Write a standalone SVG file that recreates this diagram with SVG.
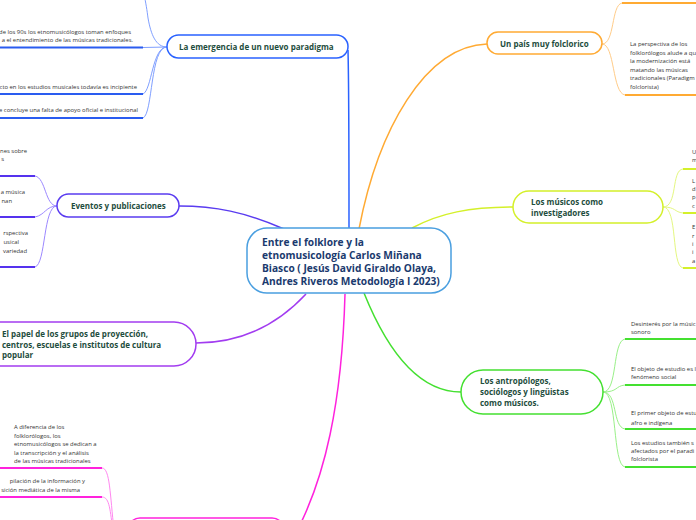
<svg xmlns="http://www.w3.org/2000/svg" width="696" height="520" viewBox="0 0 696 520">
<style>
.bg{fill:#ffffff}
.node{fill:#ffffff;stroke-width:1.5}
.root{fill:#ffffff;stroke:#4a9fe0;stroke-width:1.5}
.rt{font-family:"Open Sans","Noto Sans",sans-serif;font-weight:bold;font-size:10.2px;fill:#1a3a6e}
.tt{font-family:"Open Sans","Noto Sans",sans-serif;font-weight:bold;font-size:8px;fill:#1e4d3d}
.st{font-family:"Open Sans","Noto Sans",sans-serif;font-size:5.9px;fill:#333333}
.c{fill:none;stroke-width:1.5}
.b{fill:none;stroke-width:1}
.u{fill:none;stroke-width:2}
</style>
<rect class="bg" x="0" y="0" width="696" height="520"/>

<g id="connectors">
  <!-- root to main topics -->
  <path class="c" stroke="#2a62ff" d="M349,228 C349,150 349,90 348,50"/>
  <path class="c" stroke="#5a3cf0" d="M284,229 C245,212 215,206 179,206"/>
  <path class="c" stroke="#a23cf0" d="M306,294 C280,322 245,343 196,343"/>
  <path class="c" stroke="#ff22dd" d="M345,294 C342,400 326,480 292,540"/>
  <path class="c" stroke="#ffaa33" d="M359,229 C378,130 425,46 487,44"/>
  <path class="c" stroke="#d4f02a" d="M412,228 C440,213 470,207 513,207"/>
  <path class="c" stroke="#44e030" d="M364,293 C385,345 415,392 461,392"/>

  <!-- emergencia sub branches -->
  <path class="b" stroke="#7f9fff" d="M167,47 C156,47 151,35 148,18 C147,10 146,4 144,-6"/>
  <path class="b" stroke="#7f9fff" d="M167,47 L143,47.5"/>
  <path class="b" stroke="#7f9fff" d="M167,47 C152,47 152,90 143,94"/>
  <path class="b" stroke="#7f9fff" d="M167,47 C150,47 153,114 143,118"/>
  <path class="u" stroke="#2a5cf0" d="M0,47.5 H143"/>
  <path class="u" stroke="#2a5cf0" d="M0,94 H143"/>
  <path class="u" stroke="#2a5cf0" d="M0,118 H143"/>

  <!-- eventos sub branches -->
  <path class="b" stroke="#9c88ff" d="M57,206 C45,206 46,178 35,176"/>
  <path class="b" stroke="#9c88ff" d="M57,206 C46,206 45,215 35,217"/>
  <path class="b" stroke="#9c88ff" d="M57,206 C43,206 46,264 35,267"/>
  <path class="u" stroke="#5533ee" d="M0,176 H35"/>
  <path class="u" stroke="#5533ee" d="M0,217 H35"/>
  <path class="u" stroke="#5533ee" d="M0,267 H35"/>

  <!-- pink sub branches -->
  <path class="b" stroke="#ff88f0" d="M102,468 C110,468 110,495 114,530"/>
  <path class="b" stroke="#ff88f0" d="M102,497 C110,497 110,512 113,530"/>
  <path class="u" stroke="#ff22dd" d="M0,468 H102"/>
  <path class="u" stroke="#ff22dd" d="M0,497 H102"/>

  <!-- orange sub branches -->
  <path class="b" stroke="#ffcc88" d="M602,44 C615,44 611,5 622,3"/>
  <path class="b" stroke="#ffcc88" d="M602,44 C615,44 612,93 625,95"/>
  <path class="u" stroke="#ffaa33" d="M622,3 H696"/>
  <path class="u" stroke="#ffaa33" d="M625,95 H696"/>

  <!-- yellow sub branches -->
  <path class="b" stroke="#e4f780" d="M663,207 C678,207 671,170 683,169"/>
  <path class="b" stroke="#e4f780" d="M663,207 C676,207 674,212 683,213"/>
  <path class="b" stroke="#e4f780" d="M663,207 C678,207 671,266 683,268"/>
  <path class="u" stroke="#d4f02a" d="M683,169 H696"/>
  <path class="u" stroke="#d4f02a" d="M683,213 H696"/>
  <path class="u" stroke="#d4f02a" d="M683,268 H696"/>

  <!-- green sub branches -->
  <path class="b" stroke="#99f088" d="M603,392 C618,392 612,341 625,339"/>
  <path class="b" stroke="#99f088" d="M603,392 C618,392 615,386 625,385"/>
  <path class="b" stroke="#99f088" d="M603,392 C618,392 612,427 625,429"/>
  <path class="b" stroke="#99f088" d="M603,392 C618,392 612,465 625,467"/>
  <path class="u" stroke="#44e030" d="M625,339 H696"/>
  <path class="u" stroke="#44e030" d="M625,385 H696"/>
  <path class="u" stroke="#44e030" d="M625,429 H696"/>
  <path class="u" stroke="#44e030" d="M625,467 H696"/>
</g>

<g id="root">
  <rect class="root" x="247" y="228" width="204" height="65" rx="20"/>
  <text class="rt" x="262" y="246">Entre el folklore y la</text>
  <text class="rt" x="262" y="259">etnomusicología Carlos Miñana</text>
  <text class="rt" x="262" y="272">Biasco ( Jesús David Giraldo Olaya,</text>
  <text class="rt" x="262" y="285">Andres Riveros Metodología I 2023)</text>
</g>

<g id="emergencia">
  <rect class="node" stroke="#2a62ff" x="167" y="35" width="181" height="23" rx="11.5"/>
  <text class="tt" x="179" y="50">La emergencia de un nuevo paradigma</text>
</g>
<g id="emergencia-1">
  <text class="st" text-anchor="end" x="131" y="34">de los 90s los etnomusicólogos toman enfoques</text>
  <text class="st" text-anchor="end" x="133" y="42">a el entendimiento de las músicas tradicionales.</text>
</g>
<g id="emergencia-2">
  <text class="st" text-anchor="end" x="137" y="89">cto en los estudios musicales todavía es incipiente</text>
</g>
<g id="emergencia-3">
  <text class="st" text-anchor="end" x="138" y="112">e concluye una falta de apoyo oficial e institucional</text>
</g>

<g id="eventos">
  <rect class="node" stroke="#5a3cf0" x="57" y="194" width="122" height="23" rx="11.5"/>
  <text class="tt" x="71" y="209">Eventos y publicaciones</text>
</g>
<g id="eventos-1">
  <text class="st" text-anchor="end" x="27" y="153">nes sobre</text>
  <text class="st" text-anchor="end" x="4" y="161">s</text>
</g>
<g id="eventos-2">
  <text class="st" text-anchor="end" x="25" y="194">a música</text>
  <text class="st" text-anchor="end" x="12" y="203">nan</text>
</g>
<g id="eventos-3">
  <text class="st" text-anchor="end" x="28" y="235">rspectiva</text>
  <text class="st" text-anchor="end" x="19" y="244">usical</text>
  <text class="st" text-anchor="end" x="27" y="253">variedad</text>
</g>

<g id="papel">
  <rect class="node" stroke="#a23cf0" x="-20" y="322" width="216" height="44" rx="22"/>
  <text class="tt" x="2" y="337">El papel de los grupos de proyección,</text>
  <text class="tt" x="2" y="347.5">centros, escuelas e institutos de cultura</text>
  <text class="tt" x="2" y="358">popular</text>
</g>

<g id="etnomusicologos">
  <rect class="node" stroke="#ff22dd" x="128" y="518" width="156" height="40" rx="12"/>
</g>
<g id="etnomusicologos-1">
  <text class="st" x="14" y="429">A diferencia de los</text>
  <text class="st" x="14" y="437.5">folklorólogos, los</text>
  <text class="st" x="14" y="446">etnomusicólogos se dedican a</text>
  <text class="st" x="14" y="454.5">la transcripción y el análisis</text>
  <text class="st" x="14" y="463">de las músicas tradicionales</text>
</g>
<g id="etnomusicologos-2">
  <text class="st" text-anchor="end" x="85" y="483">pilación de la información y</text>
  <text class="st" text-anchor="end" x="80" y="492">sición mediática de la misma</text>
</g>

<g id="pais">
  <rect class="node" stroke="#ffaa33" x="487" y="32" width="115" height="22" rx="11"/>
  <text class="tt" x="500" y="47">Un país muy folclorico</text>
</g>
<g id="pais-1">
  <text class="st" x="630" y="46">La perspectiva de los</text>
  <text class="st" x="630" y="54.5">folklorólogos alude a qu</text>
  <text class="st" x="630" y="63">la modernización está</text>
  <text class="st" x="630" y="71.5">matando las músicas</text>
  <text class="st" x="630" y="80">tradicionales (Paradigm</text>
  <text class="st" x="630" y="88.5">folclorista)</text>
</g>

<g id="musicos">
  <rect class="node" stroke="#d4f02a" x="513" y="191" width="150" height="32" rx="16"/>
  <text class="tt" x="531" y="205">Los músicos como</text>
  <text class="tt" x="531" y="216">investigadores</text>
</g>
<g id="musicos-1">
  <text class="st" x="692" y="154">U</text>
  <text class="st" x="692" y="162">m</text>
</g>
<g id="musicos-2">
  <text class="st" x="692" y="183">L</text>
  <text class="st" x="692" y="191">d</text>
  <text class="st" x="692" y="199">p</text>
  <text class="st" x="692" y="208">c</text>
</g>
<g id="musicos-3">
  <text class="st" x="692" y="229">E</text>
  <text class="st" x="692" y="238">r</text>
  <text class="st" x="692" y="246">i</text>
  <text class="st" x="692" y="254">i</text>
  <text class="st" x="692" y="263">a</text>
</g>

<g id="antropologos">
  <rect class="node" stroke="#44e030" x="461" y="370" width="142" height="44" rx="22"/>
  <text class="tt" x="480" y="384">Los antropólogos,</text>
  <text class="tt" x="480" y="395">sociólogos y lingüistas</text>
  <text class="tt" x="480" y="406">como músicos.</text>
</g>
<g id="antropologos-1">
  <text class="st" x="631" y="326">Desinterés por la músic</text>
  <text class="st" x="631" y="334">sonoro</text>
</g>
<g id="antropologos-2">
  <text class="st" x="631" y="371">El objeto de estudio es l</text>
  <text class="st" x="631" y="379">fenómeno social</text>
</g>
<g id="antropologos-3">
  <text class="st" x="631" y="415">El primer objeto de estu</text>
  <text class="st" x="631" y="425">afro e indígena</text>
</g>
<g id="antropologos-4">
  <text class="st" x="631" y="445">Los estudios también s</text>
  <text class="st" x="631" y="453">afectados por el paradi</text>
  <text class="st" x="631" y="461">folclorista</text>
</g>
</svg>
